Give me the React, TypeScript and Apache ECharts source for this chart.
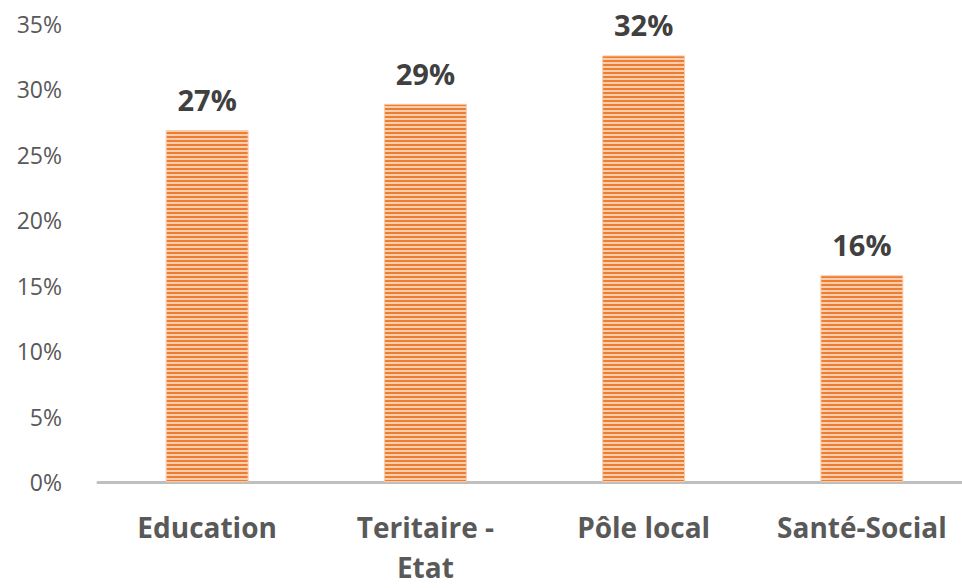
import React, { useEffect, useRef } from "react";
import * as echarts from "echarts";

const categories = ["Education", "Teritaire -\nEtat", "Pôle local", "Santé-Social"];
const values = [26.9, 28.9, 32.6, 15.8];
const valueLabels = ["27%", "29%", "32%", "16%"];

function makePattern(): string {
  const c = document.createElement("canvas");
  c.width = 8;
  c.height = 4;
  const ctx = c.getContext("2d")!;
  ctx.fillStyle = "#F9CDAE";
  ctx.fillRect(0, 0, 8, 4);
  ctx.fillStyle = "#ED7D31";
  ctx.fillRect(0, 0, 8, 2);
  return c.toDataURL();
}

export default function App() {
  const ref = useRef<HTMLDivElement>(null);
  useEffect(() => {
    if (!ref.current) return;
    const chart = echarts.init(ref.current, null, { renderer: "svg" });
    const pattern = makePattern();
    chart.setOption({
      animation: false,
      grid: { left: 98, right: -9, top: 24, bottom: 106, containLabel: false, outerBoundsMode: "none" },
      xAxis: {
        type: "category",
        data: categories,
        axisLine: { show: true, lineStyle: { color: "#BFBFBF", width: 3 } },
        axisTick: { show: false },
        axisLabel: {
          color: "#595959",
          fontFamily: "Open Sans",
          fontWeight: "bold",
          fontSize: 28,
          lineHeight: 40,
          margin: 25,
          interval: 0,
        },
      },
      yAxis: {
        type: "value",
        min: 0,
        max: 35,
        interval: 5,
        axisLine: { show: false },
        axisTick: { show: false },
        splitLine: { show: false },
        axisLabel: {
          color: "#595959",
          fontFamily: "Open Sans",
          fontSize: 23,
          margin: 36,
          formatter: (v: number) => `${v}%`,
        },
      },
      series: [
        {
          type: "bar",
          data: values,
          barWidth: "38%",
          itemStyle: {
            color: { image: pattern, repeat: "repeat" },
            borderColor: "#F8CBAD",
            borderWidth: 1,
          },
          label: {
            show: true,
            position: "top",
            distance: 16,
            color: "#404040",
            fontFamily: "Open Sans",
            fontWeight: "bold",
            fontSize: 29,
            formatter: (p: any) => valueLabels[p.dataIndex],
          },
        },
      ],
    });
    return () => chart.dispose();
  }, []);
  return (
    <div style={{ width: 962, height: 588, position: "absolute", left: 0, top: 0, overflow: "hidden" }}>
      <div ref={ref} style={{ width: 962, height: 588, overflow: "hidden" }} />
    </div>
  );
}
